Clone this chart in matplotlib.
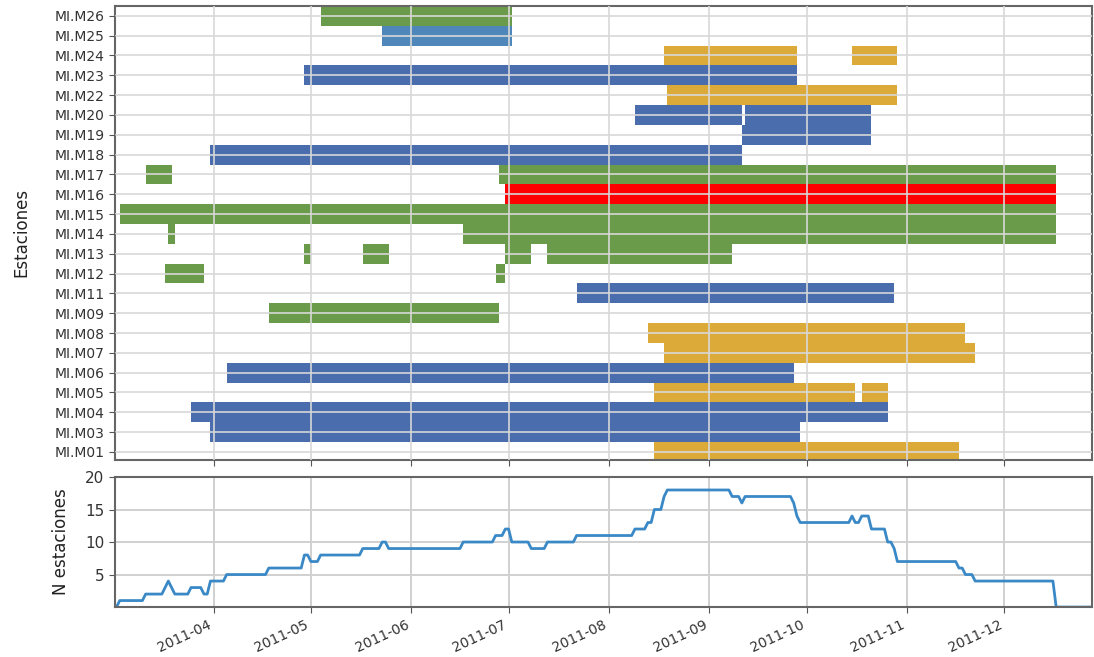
import numpy as np
import matplotlib
matplotlib.use("Agg")
import matplotlib.pyplot as plt
import matplotlib.dates as mdates

# estaciones (de abajo hacia arriba)
estaciones = ["MI.M01", "MI.M03", "MI.M04", "MI.M05", "MI.M06", "MI.M07", "MI.M08",
              "MI.M09", "MI.M11", "MI.M12", "MI.M13", "MI.M14", "MI.M15", "MI.M16",
              "MI.M17", "MI.M18", "MI.M19", "MI.M20", "MI.M22", "MI.M23", "MI.M24",
              "MI.M25", "MI.M26"]

# segmentos de registro: estacion, inicio, fin, tipo
seg_estacion = ["MI.M26", "MI.M25", "MI.M24", "MI.M24", "MI.M23", "MI.M22",
                "MI.M20", "MI.M20", "MI.M19", "MI.M18", "MI.M17", "MI.M17",
                "MI.M16", "MI.M15", "MI.M14", "MI.M14", "MI.M13", "MI.M13",
                "MI.M13", "MI.M13", "MI.M12", "MI.M12", "MI.M11", "MI.M09",
                "MI.M08", "MI.M07", "MI.M06", "MI.M05", "MI.M05", "MI.M04",
                "MI.M03", "MI.M01"]
seg_inicio = ["2011-05-04", "2011-05-23", "2011-08-18", "2011-10-15", "2011-04-29", "2011-08-19",
              "2011-08-09", "2011-09-12", "2011-09-11", "2011-03-31", "2011-03-11", "2011-06-28",
              "2011-06-30", "2011-03-03", "2011-03-18", "2011-06-17", "2011-04-29", "2011-05-17",
              "2011-06-30", "2011-07-13", "2011-03-17", "2011-06-27", "2011-07-22", "2011-04-18",
              "2011-08-13", "2011-08-18", "2011-04-05", "2011-08-15", "2011-10-18", "2011-03-25",
              "2011-03-31", "2011-08-15"]
seg_fin = ["2011-07-02", "2011-07-02", "2011-09-28", "2011-10-29", "2011-09-28", "2011-10-29",
           "2011-09-11", "2011-10-21", "2011-10-21", "2011-09-11", "2011-03-19", "2011-12-17",
           "2011-12-17", "2011-12-17", "2011-03-20", "2011-12-17", "2011-05-01", "2011-05-25",
           "2011-07-08", "2011-09-08", "2011-03-29", "2011-06-30", "2011-10-28", "2011-06-28",
           "2011-11-19", "2011-11-22", "2011-09-27", "2011-10-16", "2011-10-26", "2011-10-26",
           "2011-09-29", "2011-11-17"]
seg_tipo = ["g", "c", "o", "o", "b", "o",
            "b", "b", "b", "b", "g", "g",
            "r", "g", "g", "g", "g", "g",
            "g", "g", "g", "g", "b", "g",
            "o", "o", "b", "o", "o", "b",
            "b", "o"]

colores = {"g": "#6a9b4b", "b": "#4a6dad", "c": "#4f87ba", "o": "#dcaa38", "r": "#ff0000"}

fecha_ini = np.datetime64("2011-03-01T12")
fecha_fin = np.datetime64("2011-12-28")

fig = plt.figure(figsize=(10.94, 6.57), dpi=100)
ax1 = fig.add_axes([0.105, 0.300, 0.893, 0.691])
ax2 = fig.add_axes([0.105, 0.076, 0.893, 0.198], sharex=ax1)

# barras de disponibilidad
ypos = {e: i for i, e in enumerate(estaciones)}
for est, ini, fin, t in zip(seg_estacion, seg_inicio, seg_fin, seg_tipo):
    a = mdates.date2num(np.datetime64(ini))
    b = mdates.date2num(np.datetime64(fin))
    ax1.barh(ypos[est], b - a, left=a, height=1.0, color=colores[t], linewidth=0)

ax1.set_yticks(range(len(estaciones)))
ax1.set_yticklabels(estaciones, fontsize=10, color="#333333")
ax1.set_ylim(-0.4, len(estaciones) - 0.5)
ax1.set_ylabel("Estaciones", fontsize=12, color="#222222")
ax1.yaxis.set_label_coords(-0.086, 0.5)
ax1.grid(True, color="#d8d8d8", linewidth=1.4, alpha=0.85)
ax1.set_axisbelow(False)
plt.setp(ax1.get_xticklabels(), visible=False)

# numero de estaciones activas por dia
dias = np.arange(np.datetime64("2011-03-01"), fecha_fin + np.timedelta64(1, "D"))
n_est = np.zeros(len(dias))
for ini, fin in zip(seg_inicio, seg_fin):
    n_est += (dias >= np.datetime64(ini)) & (dias < np.datetime64(fin))
ax2.plot(mdates.date2num(dias), n_est, color="#3a89c6", linewidth=2)
ax2.set_ylim(0, 20)
ax2.set_yticks([5, 10, 15, 20])
ax2.set_ylabel("N estaciones", fontsize=12, color="#222222")
ax2.yaxis.set_label_coords(-0.046, 0.5)
ax2.grid(True, color="#d0d0d0", linewidth=1.4)

ax2.set_xlim(mdates.date2num(fecha_ini), mdates.date2num(fecha_fin))
ax2.xaxis.set_major_locator(mdates.MonthLocator())
ax2.xaxis.set_major_formatter(mdates.DateFormatter("%Y-%m"))
for lab in ax2.get_xticklabels():
    lab.set_rotation(25)
    lab.set_ha("right")
    lab.set_fontsize(10)
    lab.set_color("#333333")
for lab in ax2.get_yticklabels():
    lab.set_fontsize(11)
    lab.set_color("#333333")

for ax in (ax1, ax2):
    for s in ax.spines.values():
        s.set_color("#666666")
        s.set_linewidth(1.5)
    ax.tick_params(color="#555555", length=4)

fig.savefig("out.png", dpi=100)
